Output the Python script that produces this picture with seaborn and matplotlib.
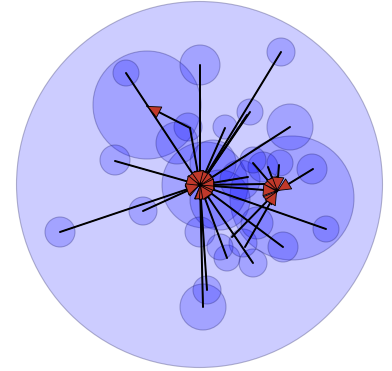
import matplotlib
matplotlib.use("Agg")
import matplotlib.pyplot as plt
from matplotlib.patches import Circle
import pandas as pd
import seaborn as sns

# Enclosing circle of the whole graph
outer_x, outer_y, outer_r = 199.5, 184.5, 183.0

# Node circles (centre x, centre y, radius)
circle_x = [147, 292, 205, 126, 200, 281, 250, 225, 290, 115, 143, 60, 312, 326,
            283, 203, 207, 227, 253, 188, 177, 213, 220, 240, 263, 280, 253, 200,
            243, 220, 257]
circle_y = [105, 198, 185, 73, 65, 52, 112, 127, 127, 160, 211, 232, 169, 229,
            247, 307, 290, 258, 263, 127, 143, 163, 200, 180, 167, 163, 160, 232,
            243, 247, 223]
circle_r = [54, 62, 43, 13, 20, 14, 13, 12, 23, 15, 14, 15, 15, 13,
            15, 23, 14, 13, 14, 14, 21, 23, 30, 20, 15, 13, 13, 15,
            14, 13, 16]

# Hubs that receive the directed edges
hub_x = [200, 277, 147]
hub_y = [185, 191, 106]

# Directed edges: source position -> hub index
edge_src_x = [126, 200, 281, 250, 247, 225, 290, 115, 143, 60, 326, 283, 203, 207,
              227, 253, 190, 248, 265,
              253, 268, 279, 313, 232, 245, 200,
              190]
edge_src_y = [73, 65, 52, 112, 115, 128, 127, 161, 211, 232, 229, 247, 307, 290,
              258, 263, 128, 177, 184,
              163, 167, 165, 169, 237, 247, 185,
              128]
edge_hub = [0, 0, 0, 0, 0, 0, 0, 0, 0, 0, 0, 0, 0, 0,
            0, 0, 0, 0, 0,
            1, 1, 1, 1, 1, 1, 1,
            2]

sns.set_style("white")

fig = plt.figure(figsize=(3.92, 3.71), dpi=100)
ax = fig.add_axes([0, 0, 1, 1])

ax.add_patch(Circle((outer_x, outer_y), outer_r, facecolor=(0, 0, 1, 0.2),
                    edgecolor=(0.3, 0.3, 0.5, 0.4), lw=0.8, zorder=1))
for cx, cy, r in zip(circle_x, circle_y, circle_r):
    ax.add_patch(Circle((cx, cy), r, facecolor=(0, 0, 1, 0.2),
                        edgecolor=(0.1, 0.1, 0.4, 0.3), lw=0.8, zorder=2))

rows = []
for i, (sx, sy, h) in enumerate(zip(edge_src_x, edge_src_y, edge_hub)):
    rows.append({"edge": i, "x": sx, "y": sy})
    rows.append({"edge": i, "x": hub_x[h], "y": hub_y[h]})
edges = pd.DataFrame(rows)

sns.lineplot(data=edges, x="x", y="y", units="edge", estimator=None, sort=False,
             color="black", lw=1.4, ax=ax, zorder=3)

for sx, sy, h in zip(edge_src_x, edge_src_y, edge_hub):
    ax.annotate("", xy=(hub_x[h], hub_y[h]), xytext=(sx, sy),
                arrowprops=dict(arrowstyle="-|>,head_length=0.65,head_width=0.3",
                                fc="#c0392b", ec="black", lw=0.6,
                                shrinkA=0, shrinkB=0, mutation_scale=14),
                zorder=4)

ax.set_xlim(0, 392)
ax.set_ylim(371, 0)
ax.set_xlabel("")
ax.set_ylabel("")
ax.set_axis_off()

fig.savefig("out.png", dpi=100)
